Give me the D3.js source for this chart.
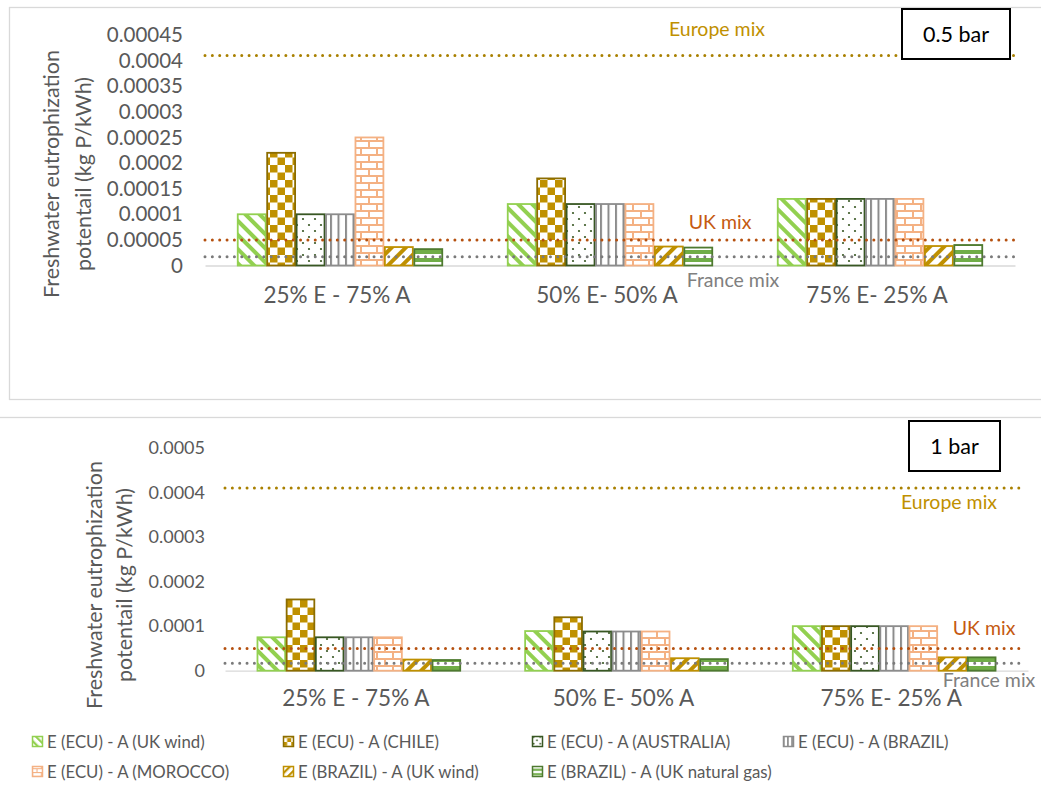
<!DOCTYPE html>
<html>
<head>
<meta charset="utf-8">
<script src="https://cdn.jsdelivr.net/npm/d3@7"></script>
<style>
  html, body { margin: 0; padding: 0; background: #fff; }
  svg { display: block; font-family: Lato, "Open Sans", sans-serif; }
</style>
</head>
<body>
<svg id="chart" width="1041" height="796"></svg>
<script>
// Mixing scenarios on the x axis
const categories = ["25% E - 75% A", "50% E- 50% A", "75% E- 25% A"];

// Series (electrolysis source - ammonia source)
const seriesNames = [
  "E (ECU) - A (UK wind)",
  "E (ECU) - A (CHILE)",
  "E (ECU) - A (AUSTRALIA)",
  "E (ECU) - A (BRAZIL)",
  "E (ECU) - A (MOROCCO)",
  "E (BRAZIL) - A (UK wind)",
  "E (BRAZIL) - A (UK natural gas)"
];

// 0.5 bar results (kg P/kWh)
const ukWind05     = [0.00010, 0.00012, 0.00013];
const chile05      = [0.00022, 0.00017, 0.00013];
const australia05  = [0.00010, 0.00012, 0.00013];
const brazil05     = [0.00010, 0.00012, 0.00013];
const morocco05    = [0.00025, 0.00012, 0.00013];
const brUkWind05   = [0.000036, 0.000037, 0.000038];
const brUkGas05    = [0.000032, 0.000035, 0.000040];

// 1 bar results (kg P/kWh)
const ukWind1      = [0.000075, 0.000089, 0.00010];
const chile1       = [0.00016, 0.00012, 0.00010];
const australia1   = [0.000075, 0.000088, 0.00010];
const brazil1      = [0.000075, 0.000088, 0.00010];
const morocco1     = [0.000075, 0.000088, 0.00010];
const brUkWind1    = [0.000025, 0.000028, 0.000030];
const brUkGas1     = [0.000024, 0.000026, 0.000030];

// Grid-mix reference levels
const europeMix = 0.00041;
const ukMix = 0.00005;
const franceMix = 0.000017;

// Tick labels
const ticks05 = ["0", "0.00005", "0.0001", "0.00015", "0.0002", "0.00025", "0.0003", "0.00035", "0.0004", "0.00045"];
const ticks1 = ["0", "0.0001", "0.0002", "0.0003", "0.0004", "0.0005"];

const svg = d3.select("#chart");
const defs = svg.append("defs");

// Fill styles for each series
const seriesStyle = [
  { pat: "ukwind",   stroke: "#92D050" },
  { pat: "checker",  stroke: "#8C6D00" },
  { pat: "dots",     stroke: "#385723" },
  { pat: "vlines",   stroke: "#8C8C8C" },
  { pat: "brick",    stroke: "#F4B183" },
  { pat: "updiag",   stroke: "#BF9000" },
  { pat: "hstripe",  stroke: "#4E7A30" }
];

function makePatterns(suffix, s) {
  // wide downward diagonal, light green
  let p = defs.append("pattern").attr("id", "ukwind" + suffix)
    .attr("patternUnits", "userSpaceOnUse").attr("width", 10 * s).attr("height", 10 * s)
    .attr("patternTransform", "rotate(-45)");
  p.append("rect").attr("width", 10 * s).attr("height", 10 * s).attr("fill", "#fff");
  p.append("rect").attr("width", 4 * s).attr("height", 10 * s).attr("fill", "#92D050");

  // large checkerboard, gold
  const c = 7.5 * s;
  p = defs.append("pattern").attr("id", "checker" + suffix)
    .attr("patternUnits", "userSpaceOnUse").attr("width", 2 * c).attr("height", 2 * c);
  p.append("rect").attr("width", 2 * c).attr("height", 2 * c).attr("fill", "#fff");
  p.append("rect").attr("width", c).attr("height", c).attr("fill", "#BF9000");
  p.append("rect").attr("x", c).attr("y", c).attr("width", c).attr("height", c).attr("fill", "#BF9000");

  // sparse dots, dark green
  p = defs.append("pattern").attr("id", "dots" + suffix)
    .attr("patternUnits", "userSpaceOnUse").attr("width", 12 * s).attr("height", 12 * s);
  p.append("rect").attr("width", 12 * s).attr("height", 12 * s).attr("fill", "#fff");
  p.append("circle").attr("cx", 3 * s).attr("cy", 3 * s).attr("r", 1.1 * Math.max(s, 0.8)).attr("fill", "#385723");
  p.append("circle").attr("cx", 9 * s).attr("cy", 9 * s).attr("r", 1.1 * Math.max(s, 0.8)).attr("fill", "#385723");

  // narrow vertical lines, grey
  p = defs.append("pattern").attr("id", "vlines" + suffix)
    .attr("patternUnits", "userSpaceOnUse").attr("width", 7.5 * s).attr("height", 10);
  p.append("rect").attr("width", 7.5 * s).attr("height", 10).attr("fill", "#fff");
  p.append("rect").attr("width", 2 * Math.max(s, 0.8)).attr("height", 10).attr("fill", "#8C8C8C");

  // horizontal brick, light orange
  p = defs.append("pattern").attr("id", "brick" + suffix)
    .attr("patternUnits", "userSpaceOnUse").attr("width", 16 * s).attr("height", 14 * s);
  p.append("rect").attr("width", 16 * s).attr("height", 14 * s).attr("fill", "#fff");
  p.append("rect").attr("y", 0).attr("width", 16 * s).attr("height", 2 * s).attr("fill", "#F4B183");
  p.append("rect").attr("y", 7 * s).attr("width", 16 * s).attr("height", 2 * s).attr("fill", "#F4B183");
  p.append("rect").attr("x", 0).attr("y", 0).attr("width", 2 * s).attr("height", 7 * s).attr("fill", "#F4B183");
  p.append("rect").attr("x", 8 * s).attr("y", 7 * s).attr("width", 2 * s).attr("height", 7 * s).attr("fill", "#F4B183");

  // wide upward diagonal, gold
  p = defs.append("pattern").attr("id", "updiag" + suffix)
    .attr("patternUnits", "userSpaceOnUse").attr("width", 10 * s).attr("height", 10 * s)
    .attr("patternTransform", "rotate(45)");
  p.append("rect").attr("width", 10 * s).attr("height", 10 * s).attr("fill", "#fff");
  p.append("rect").attr("width", 4 * s).attr("height", 10 * s).attr("fill", "#BF9000");

  // dark horizontal stripes, green
  p = defs.append("pattern").attr("id", "hstripe" + suffix)
    .attr("patternUnits", "userSpaceOnUse").attr("width", 10).attr("height", 8 * s);
  p.append("rect").attr("width", 10).attr("height", 8 * s).attr("fill", "#fff");
  p.append("rect").attr("y", 2 * s).attr("width", 10).attr("height", 4 * s).attr("fill", "#70AD47");
}
makePatterns("", 1);
makePatterns("-lg", 0.55);

const textGrey = "#595959";

function drawPanel(cfg) {
  const g = svg.append("g");

  const y = d3.scaleLinear().domain(cfg.domain).range([cfg.y0, cfg.y1]);
  const x0 = d3.scaleBand().domain(categories).range([cfg.xLeft, cfg.xRight]);
  const groupW = x0.bandwidth() * 0.763;
  const x1 = d3.scaleBand().domain(seriesNames)
    .range([(x0.bandwidth() - groupW) / 2, (x0.bandwidth() + groupW) / 2]);

  // y axis labels
  const yAxis = d3.axisLeft(y)
    .tickValues(cfg.ticks.map(Number))
    .tickFormat((d, i) => cfg.ticks[i])
    .tickSize(0).tickPadding(0);
  const ya = g.append("g").attr("transform", `translate(${cfg.tickX},0)`).call(yAxis);
  ya.select(".domain").remove();
  ya.selectAll("text").attr("fill", textGrey).style("font-size", cfg.tickFont + "px")
    .style("font-family", "Lato, sans-serif");

  // category axis
  const xAxis = d3.axisBottom(x0).tickSize(0).tickPadding(0);
  const xa = g.append("g").attr("transform", `translate(0,${cfg.y0})`).call(xAxis);
  xa.select(".domain").attr("stroke", "#D9D9D9").attr("stroke-width", 1.3);
  xa.selectAll("text").attr("fill", textGrey).attr("dy", 0).attr("y", cfg.catDy)
    .attr("dx", -3)
    .style("font-size", "22.5px").style("font-family", "Lato, sans-serif");

  // bars
  const rows = [];
  cfg.series.forEach((vals, si) => {
    vals.forEach((v, ci) => rows.push({ si, cat: categories[ci], v }));
  });
  g.append("g").selectAll("rect").data(rows).join("rect")
    .attr("x", d => x0(d.cat) + x1(seriesNames[d.si]) + 0.75)
    .attr("y", d => y(d.v))
    .attr("width", x1.bandwidth() - 1.5)
    .attr("height", d => y(0) - y(d.v))
    .attr("fill", d => `url(#${seriesStyle[d.si].pat})`)
    .attr("stroke", d => seriesStyle[d.si].stroke)
    .attr("stroke-width", 1.8);

  // grid-mix reference lines
  const mixes = [
    { v: europeMix, color: "#A98000" },
    { v: ukMix, color: "#B5500F" },
    { v: franceMix, color: "#7A7A7A" }
  ];
  g.append("g").selectAll("line").data(mixes).join("line")
    .attr("x1", cfg.xLeft).attr("x2", cfg.lineRight)
    .attr("y1", d => y(d.v)).attr("y2", d => y(d.v))
    .attr("stroke", d => d.color).attr("stroke-width", 3)
    .attr("stroke-linecap", "round").attr("stroke-dasharray", "0 7.35");

  // mix labels
  cfg.mixLabels.forEach(m => {
    g.append("text").attr("x", m.x).attr("y", m.y).attr("text-anchor", "middle")
      .attr("fill", m.color).style("font-size", "19.5px").text(m.text);
  });

  // axis title
  const t = g.append("text").attr("text-anchor", "middle").attr("fill", textGrey)
    .attr("transform", `translate(${cfg.titleX},${cfg.titleY}) rotate(-90)`)
    .style("font-size", "21.5px");
  t.append("tspan").attr("x", 0).attr("dy", 0).text("Freshwater eutrophization");
  t.append("tspan").attr("x", 0).attr("dy", cfg.titleGap).text("potentail (kg P/kWh)");

  // pressure box
  g.append("rect").attr("x", cfg.box[0]).attr("y", cfg.box[1])
    .attr("width", cfg.box[2]).attr("height", cfg.box[3])
    .attr("fill", "#fff").attr("stroke", "#000").attr("stroke-width", 2);
  g.append("text").attr("x", cfg.box[0] + cfg.box[2] / 2).attr("y", cfg.box[1] + cfg.box[3] / 2 + 7.5)
    .attr("text-anchor", "middle").attr("fill", "#000").style("font-size", "21.5px").text(cfg.boxText);
}

// panel frames
svg.append("rect").attr("x", 9.5).attr("y", 7.5).attr("width", 1040).attr("height", 392)
  .attr("fill", "none").attr("stroke", "#D9D9D9").attr("stroke-width", 1.3);
svg.append("rect").attr("x", -2).attr("y", 417.5).attr("width", 1050).attr("height", 385)
  .attr("fill", "none").attr("stroke", "#D9D9D9").attr("stroke-width", 1.3);

drawPanel({
  domain: [0, 0.00045], y0: 265.5, y1: 35,
  xLeft: 205, xRight: 1015, lineRight: 1015,
  ticks: ticks05, tickX: 183, tickFont: 20.5, catDy: 37,
  series: [ukWind05, chile05, australia05, brazil05, morocco05, brUkWind05, brUkGas05],
  mixLabels: [
    { text: "Europe mix", x: 717, y: 36, color: "#BF9000" },
    { text: "UK mix", x: 720, y: 229, color: "#C55A11" },
    { text: "France mix", x: 733, y: 287, color: "#808080" }
  ],
  titleX: 59, titleY: 174, titleGap: 32,
  box: [902, 9, 108, 50], boxText: "0.5 bar"
});

drawPanel({
  domain: [0, 0.0005], y0: 670.7, y1: 448,
  xLeft: 225, xRight: 1028, lineRight: 1022,
  ticks: ticks1, tickX: 205, tickFont: 18, catDy: 35,
  series: [ukWind1, chile1, australia1, brazil1, morocco1, brUkWind1, brUkGas1],
  mixLabels: [
    { text: "Europe mix", x: 949, y: 509, color: "#BF9000" },
    { text: "UK mix", x: 984, y: 635, color: "#C55A11" },
    { text: "France mix", x: 989, y: 687, color: "#808080" }
  ],
  titleX: 102, titleY: 585, titleGap: 30,
  box: [909, 421, 91, 50], boxText: "1 bar"
});

// legend
const legendPos = [
  [32, 742], [283, 742], [532, 742], [783, 742],
  [32, 772], [283, 772], [532, 772]
];
const lg = svg.append("g").selectAll("g").data(seriesNames).join("g")
  .attr("transform", (d, i) => `translate(${legendPos[i][0]},${legendPos[i][1]})`);
lg.append("rect").attr("x", 0.5).attr("y", -5.5).attr("width", 10).attr("height", 10)
  .attr("fill", (d, i) => `url(#${seriesStyle[i].pat}-lg)`)
  .attr("stroke", (d, i) => seriesStyle[i].stroke).attr("stroke-width", 1.5);
lg.append("text").attr("x", 15).attr("y", 6).attr("fill", textGrey)
  .style("font-size", "16.8px").text(d => d);
</script>
</body>
</html>
